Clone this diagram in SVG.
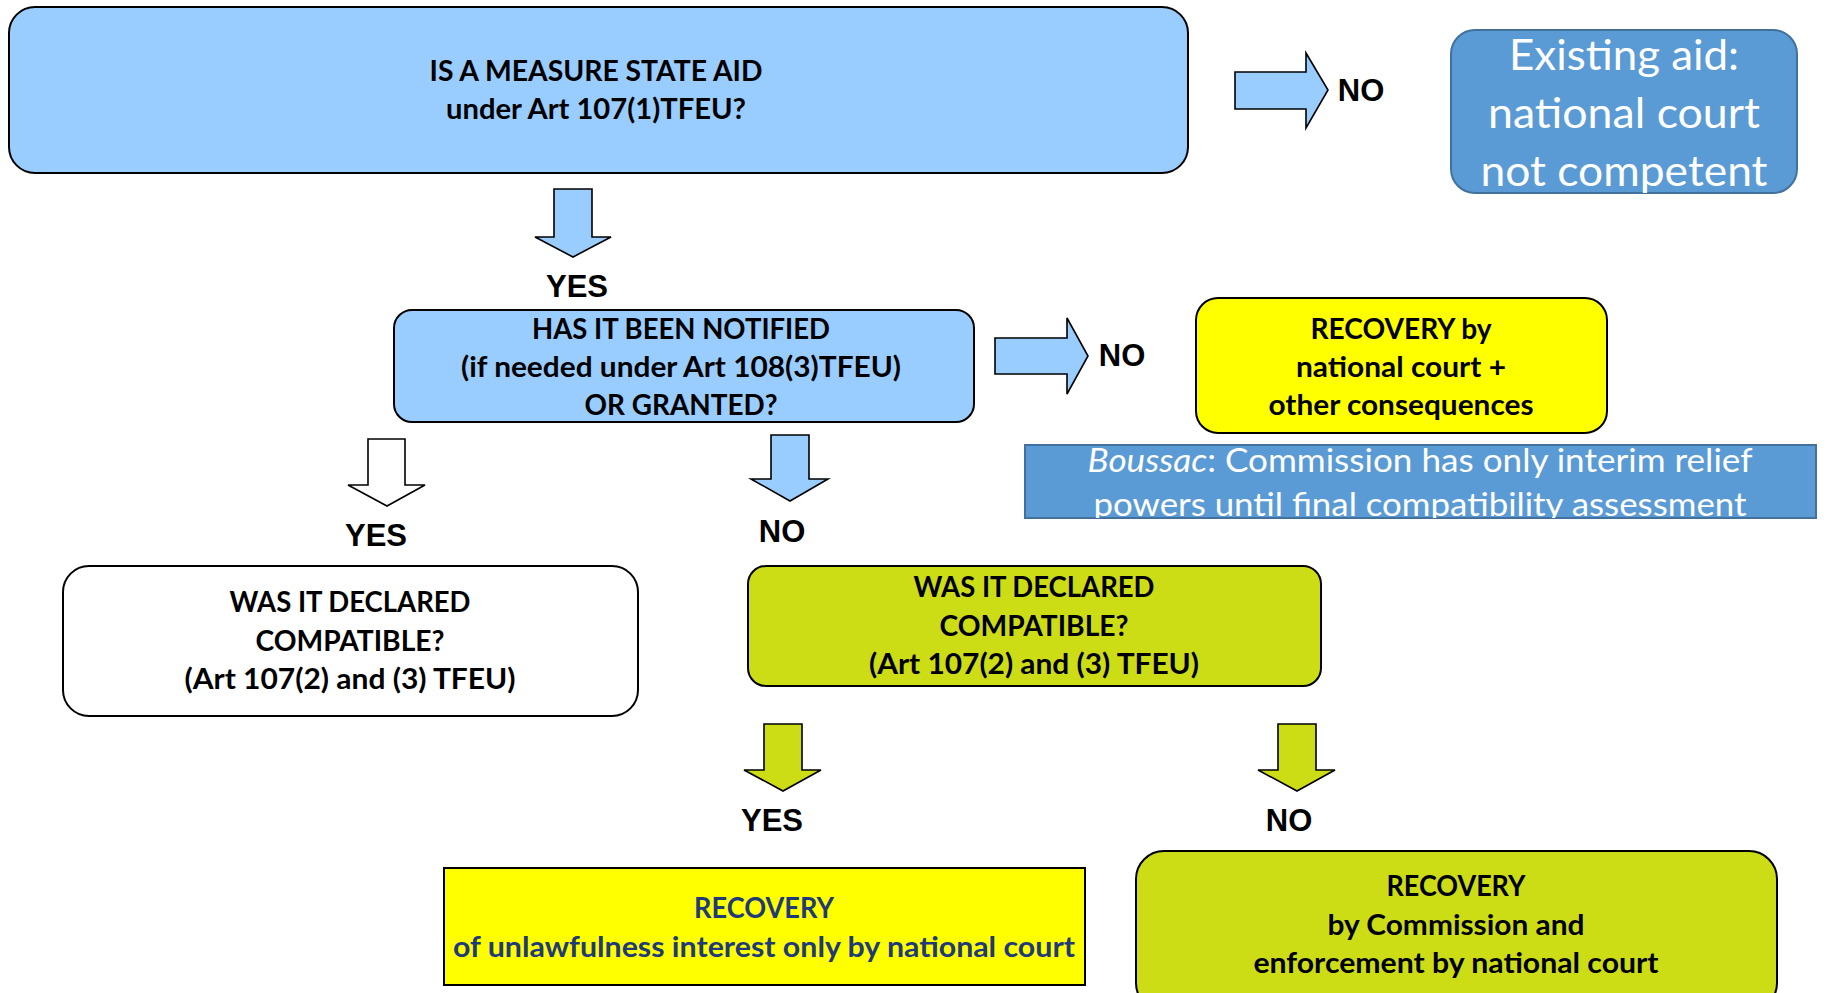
<svg xmlns="http://www.w3.org/2000/svg" width="1832" height="993" viewBox="0 0 1832 993">
<style>
.lb{fill:#99CCFF;stroke:#000;stroke-width:2}
.mb{fill:#5B9BD5;stroke:#41719C;stroke-width:2}
.yl{fill:#FFFF00;stroke:#000;stroke-width:2}
.gr{fill:#CCDD16;stroke:#000;stroke-width:2}
.wh{fill:#FFFFFF;stroke:#000;stroke-width:2}
.ar{stroke:#000;stroke-width:1.6;stroke-linejoin:miter}
.t{font-family:Lato,"Open Sans","Liberation Sans",sans-serif;font-weight:bold;font-size:29px;fill:#000;text-anchor:middle}
.tn{fill:#1F3A78}
.w{font-family:Lato,"Open Sans","Liberation Sans",sans-serif;font-weight:normal;fill:#FFFFFF;text-anchor:middle}
.lbl{font-family:"Liberation Sans",Arial,sans-serif;font-weight:bold;font-size:31px;fill:#000;text-anchor:middle}
</style>
<defs>
<clipPath id="clipB"><rect x="1025" y="445" width="791" height="73"/></clipPath>
</defs>

<g id="connectors">
<path class="ar" fill="#99CCFF" d="M1235,72 H1306 V53 L1328,90 L1306,128 V109 H1235 Z"/>
<path class="ar" fill="#99CCFF" d="M554,189 H592 V237 H611 L573,257 L535,237 H554 Z"/>
<path class="ar" fill="#99CCFF" d="M995,338 H1067 V318 L1088,356 L1067,394 V374 H995 Z"/>
<path class="ar" fill="#FFFFFF" d="M368,439 H405 V485 H425 L387,506 L348,485 H368 Z"/>
<path class="ar" fill="#99CCFF" d="M771,435 H809 V479 H828 L790,501 L751,479 H771 Z"/>
<path class="ar" fill="#CCDD16" d="M764,724 H802 V770 H821 L783,791 L744,770 H764 Z"/>
<path class="ar" fill="#CCDD16" d="M1278,724 H1316 V770 H1335 L1297,791 L1258,770 H1278 Z"/>
<text class="lbl" x="1361" y="101">NO</text>
<text class="lbl" x="577" y="297">YES</text>
<text class="lbl" x="1122" y="366">NO</text>
<text class="lbl" x="376" y="546">YES</text>
<text class="lbl" x="782" y="542">NO</text>
<text class="lbl" x="772" y="831">YES</text>
<text class="lbl" x="1289" y="831">NO</text>
</g>

<g id="node-state-aid">
<rect class="lb" x="9" y="7" width="1179" height="166" rx="26"/>
<text class="t" x="596" y="81" textLength="333" lengthAdjust="spacingAndGlyphs">IS A MEASURE STATE AID</text>
<text class="t" x="596" y="119" textLength="300" lengthAdjust="spacingAndGlyphs">under Art 107(1)TFEU?</text>
</g>

<g id="node-existing-aid">
<rect class="mb" x="1451" y="30" width="346" height="163" rx="24"/>
<text class="w" font-size="42" x="1624" y="70" textLength="230" lengthAdjust="spacingAndGlyphs">Existing aid:</text>
<text class="w" font-size="42" x="1624" y="128" textLength="272" lengthAdjust="spacingAndGlyphs">national court</text>
<text class="w" font-size="42" x="1624" y="186" textLength="287" lengthAdjust="spacingAndGlyphs">not competent</text>
</g>

<g id="node-notified">
<rect class="lb" x="394" y="310" width="580" height="112" rx="18"/>
<text class="t" x="681" y="339" textLength="298" lengthAdjust="spacingAndGlyphs">HAS IT BEEN NOTIFIED</text>
<text class="t" x="681" y="377" textLength="440" lengthAdjust="spacingAndGlyphs">(if needed under Art 108(3)TFEU)</text>
<text class="t" x="681" y="415" textLength="193" lengthAdjust="spacingAndGlyphs">OR GRANTED?</text>
</g>

<g id="node-recovery-national">
<rect class="yl" x="1196" y="298" width="411" height="135" rx="22"/>
<text class="t" x="1401" y="339" textLength="181" lengthAdjust="spacingAndGlyphs">RECOVERY by</text>
<text class="t" x="1401" y="377" textLength="210" lengthAdjust="spacingAndGlyphs">national court +</text>
<text class="t" x="1401" y="415" textLength="265" lengthAdjust="spacingAndGlyphs">other consequences</text>
</g>

<g id="node-boussac">
<rect class="mb" x="1025" y="445" width="791" height="73"/>
<g clip-path="url(#clipB)">
<text class="w" font-size="33" x="1420" y="472" textLength="665" lengthAdjust="spacingAndGlyphs"><tspan font-style="italic">Boussac</tspan>: Commission has only interim relief</text>
<text class="w" font-size="33" x="1420" y="516" textLength="653" lengthAdjust="spacingAndGlyphs">powers until final compatibility assessment</text>
</g>
</g>

<g id="node-compatible-notified">
<rect class="wh" x="63" y="566" width="575" height="150" rx="26"/>
<text class="t" x="350" y="612" textLength="241" lengthAdjust="spacingAndGlyphs">WAS IT DECLARED</text>
<text class="t" x="350" y="651" textLength="189" lengthAdjust="spacingAndGlyphs">COMPATIBLE?</text>
<text class="t" x="350" y="689" textLength="331" lengthAdjust="spacingAndGlyphs">(Art 107(2) and (3) TFEU)</text>
</g>

<g id="node-compatible-unnotified">
<rect class="gr" x="748" y="566" width="573" height="120" rx="18"/>
<text class="t" x="1034" y="597" textLength="241" lengthAdjust="spacingAndGlyphs">WAS IT DECLARED</text>
<text class="t" x="1034" y="636" textLength="189" lengthAdjust="spacingAndGlyphs">COMPATIBLE?</text>
<text class="t" x="1034" y="674" textLength="330" lengthAdjust="spacingAndGlyphs">(Art 107(2) and (3) TFEU)</text>
</g>

<g id="node-recovery-interest">
<rect class="yl" x="444" y="868" width="641" height="117"/>
<text class="t tn" x="764" y="918" textLength="140" lengthAdjust="spacingAndGlyphs">RECOVERY</text>
<text class="t tn" x="764" y="957" textLength="622" lengthAdjust="spacingAndGlyphs">of unlawfulness interest only by national court</text>
</g>

<g id="node-recovery-commission">
<rect class="gr" x="1136" y="851" width="641" height="160" rx="28"/>
<text class="t" x="1456" y="896" textLength="139" lengthAdjust="spacingAndGlyphs">RECOVERY</text>
<text class="t" x="1456" y="935" textLength="257" lengthAdjust="spacingAndGlyphs">by Commission and</text>
<text class="t" x="1456" y="973" textLength="405" lengthAdjust="spacingAndGlyphs">enforcement by national court</text>
</g>
</svg>
